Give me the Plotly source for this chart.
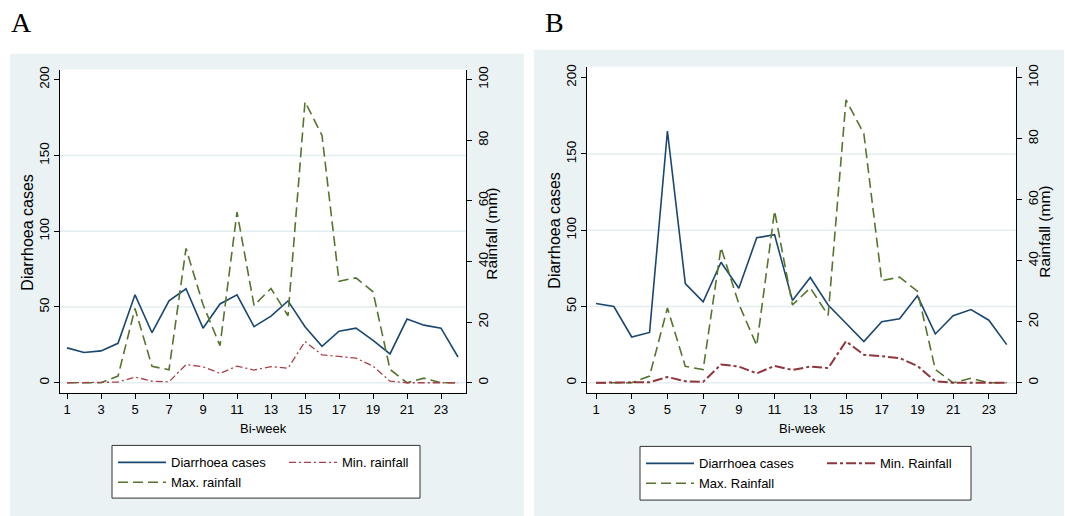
import plotly.graph_objects as go

W, H = 1065, 516

# ---------------- data ----------------
biweek = list(range(1, 25))
cases_a = [23, 20, 21, 26, 58, 33, 54, 62, 36, 52, 58, 37, 44, 54, 37, 24, 34, 36, 28, 19, 42, 38, 36, 17]
max_rain_a = [0, 0, 0, 2.2, 24.5, 5.4, 4.3, 44.3, 25.8, 12.2, 56.3, 25.5, 31.1, 22.1, 92.7, 81.6,
              33.5, 34.6, 30.0, 4.4, 0, 1.5, 0, 0]
min_rain_a = [0, 0, 0, 0.2, 1.9, 0.5, 0.3, 6.0, 5.3, 3.1, 5.5, 4.2, 5.3, 4.8, 13.6, 9.2,
              8.7, 8.1, 5.5, 0.5, 0, 0, 0, 0]
cases_b = [52, 50, 30, 33, 165, 65, 53, 79, 62, 95, 97, 54, 69, 51, 39, 27, 40, 42, 57, 32, 44, 48, 41, 25]
max_rain_b = [0, 0, 0, 2.2, 24.5, 5.4, 4.3, 44.3, 25.8, 12.2, 56.3, 25.5, 31.1, 22.1, 92.7, 81.6,
              33.5, 34.6, 30.0, 4.4, 0, 1.5, 0, 0]
min_rain_b = [0, 0, 0, 0.2, 1.9, 0.5, 0.3, 6.0, 5.3, 3.1, 5.5, 4.2, 5.3, 4.8, 13.6, 9.2,
              8.7, 8.1, 5.5, 0.5, 0, 0, 0, 0]

x_ticks = [1, 3, 5, 7, 9, 11, 13, 15, 17, 19, 21, 23]
left_ticks = [0, 50, 100, 150, 200]
right_ticks = [0, 20, 40, 60, 80, 100]
grid_vals = [0, 50, 100, 150]

names_a = ["Diarrhoea cases", "Max. rainfall", "Min. rainfall"]
names_b = ["Diarrhoea cases", "Max. Rainfall", "Min. Rainfall"]

# ---------------- style ----------------
SANS = "Liberation Sans, Arial, Helvetica, sans-serif"
SERIF = "Liberation Serif, Times New Roman, serif"
BG = "#eaf2f3"
GRID = "#e4eef1"
NAVY = "#1a476f"
GREEN = "#55752f"
RED_A = "#a8404a"
RED_B = "#90353b"


def px(x):
    return x / W


def py(y):
    return 1 - y / H


fig = go.Figure()

# Panel A
fig.add_trace(go.Scatter(x=biweek, y=cases_a, name=names_a[0], mode="lines",
                         line=dict(color=NAVY, width=1.6), xaxis="x", yaxis="y", legend="legend"))
fig.add_trace(go.Scatter(x=biweek, y=max_rain_a, name=names_a[1], mode="lines",
                         line=dict(color=GREEN, width=1.6, dash="10px,5px"), xaxis="x", yaxis="y2",
                         legend="legend"))
fig.add_trace(go.Scatter(x=biweek, y=min_rain_a, name=names_a[2], mode="lines",
                         line=dict(color=RED_A, width=1.3, dash="7px,3px,2px,3px"), xaxis="x", yaxis="y2",
                         legend="legend2"))
# Panel B
fig.add_trace(go.Scatter(x=biweek, y=cases_b, name=names_b[0], mode="lines",
                         line=dict(color=NAVY, width=1.6), xaxis="x2", yaxis="y3", legend="legend3"))
fig.add_trace(go.Scatter(x=biweek, y=max_rain_b, name=names_b[1], mode="lines",
                         line=dict(color=GREEN, width=1.6, dash="10px,5px"), xaxis="x2", yaxis="y4",
                         legend="legend3"))
fig.add_trace(go.Scatter(x=biweek, y=min_rain_b, name=names_b[2], mode="lines",
                         line=dict(color=RED_B, width=2.0, dash="10px,3px,3px,3px"), xaxis="x2", yaxis="y4",
                         legend="legend4"))

xfont = dict(size=13, family=SANS, color="black")
yfont = dict(size=13.5, family=SANS, color="black")
common = dict(ticks="outside", ticklen=5, tickcolor="black", tickwidth=1, showline=True,
              linecolor="black", linewidth=1, showgrid=False, zeroline=False,
              tickmode="array", fixedrange=True)

layout_axes = dict(
    xaxis=dict(domain=[px(60), px(466)], range=[0.588, 24.47], anchor="y", tickvals=x_ticks,
               tickfont=xfont, **common),
    yaxis=dict(domain=[py(392), py(67)], range=[-6.58, 206.6], anchor="x", tickvals=left_ticks,
               tickangle=-90, tickfont=yfont, **common),
    yaxis2=dict(overlaying="y", side="right", anchor="x", range=[-3.29, 103.3], tickvals=right_ticks,
                tickangle=-90, tickfont=yfont, **common),
    xaxis2=dict(domain=[px(587), px(1016)], range=[0.496, 24.52], anchor="y3", tickvals=x_ticks,
                tickfont=xfont, **common),
    yaxis3=dict(domain=[py(392), py(64)], range=[-6.51, 207.2], anchor="x2", tickvals=left_ticks,
                tickangle=-90, tickfont=yfont, **common),
    yaxis4=dict(overlaying="y3", side="right", anchor="x2", range=[-3.26, 103.6], tickvals=right_ticks,
                tickangle=-90, tickfont=yfont, **common),
)

shapes = []
# panel backgrounds
shapes.append(dict(type="rect", xref="paper", yref="paper", x0=px(10), x1=px(524), y0=py(516), y1=py(51),
                   fillcolor=BG, line=dict(width=0), layer="below"))
shapes.append(dict(type="rect", xref="paper", yref="paper", x0=px(534), x1=px(1064), y0=py(516), y1=py(47),
                   fillcolor=BG, line=dict(width=0), layer="below"))
# white plot regions + horizontal grid lines
for xr, yr in (("x", "y"), ("x2", "y3")):
    shapes.append(dict(type="rect", xref=xr + " domain", yref=yr + " domain", x0=0, x1=1, y0=0, y1=1,
                       fillcolor="white", line=dict(width=0), layer="below"))
    for g in grid_vals:
        shapes.append(dict(type="line", xref=xr + " domain", yref=yr, x0=0, x1=1, y0=g, y1=g,
                           line=dict(color=GRID, width=1.5), layer="below"))
# legend boxes
shapes.append(dict(type="rect", xref="paper", yref="paper", x0=px(112), x1=px(420), y0=py(498), y1=py(445),
                   fillcolor="white", line=dict(color="#333333", width=1), layer="below"))
shapes.append(dict(type="rect", xref="paper", yref="paper", x0=px(640), x1=px(971), y0=py(500), y1=py(446),
                   fillcolor="white", line=dict(color="#333333", width=1), layer="below"))

annotations = []


def ann(text, x, y, size, family=SANS, angle=0):
    annotations.append(dict(text=text, x=px(x), y=py(y), xref="paper", yref="paper", showarrow=False,
                            xanchor="center", yanchor="middle", textangle=angle,
                            font=dict(size=size, family=family, color="black")))


ann("A", 21, 20, 28, SERIF)
ann("B", 554, 20, 28, SERIF)
ann("Diarrhoea cases", 28, 231, 16, angle=-90)
ann("Diarrhoea cases", 555, 229, 16, angle=-90)
ann("Rainfall (mm)", 492, 232, 15.5, angle=-90)
ann("Rainfall (mm)", 1045, 230, 15.5, angle=-90)
ann("Bi-week", 263, 428, 13)
ann("Bi-week", 802, 428, 13)

leg_common = dict(orientation="v", bgcolor="rgba(0,0,0,0)", borderwidth=0, itemwidth=48,
                  font=dict(size=13, family=SANS, color="black"), xanchor="left", yanchor="top",
                  tracegroupgap=0, itemclick=False, itemdoubleclick=False)

fig.update_layout(
    width=W, height=H, margin=dict(l=0, r=0, t=0, b=0),
    paper_bgcolor="white", plot_bgcolor="white",
    font=dict(family=SANS, size=13, color="black"),
    showlegend=True,
    legend=dict(x=px(113), y=py(447), **leg_common),
    legend2=dict(x=px(284), y=py(447), **leg_common),
    legend3=dict(x=px(641), y=py(448), **leg_common),
    legend4=dict(x=px(822), y=py(448), **leg_common),
    shapes=shapes, annotations=annotations,
    **layout_axes,
)

fig.write_html("out.html")
